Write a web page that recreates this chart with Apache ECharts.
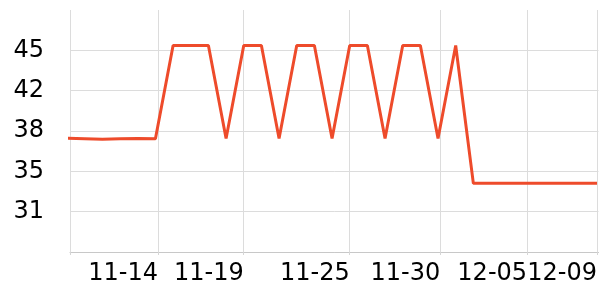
<!DOCTYPE html>
<html>
<head>
<meta charset="utf-8">
<script src="https://cdn.jsdelivr.net/npm/echarts@6/dist/echarts.min.js"></script>
<style>html,body{margin:0;padding:0;background:#fff}#c{width:600px;height:300px}</style>
</head>
<body>
<div id="c"></div>
<script>
var year = 2023;
var dates = ['11-09','11-10','11-11','11-12','11-13','11-14','11-15','11-16','11-17','11-18',
  '11-19','11-20','11-21','11-22','11-23','11-24','11-25','11-26','11-27','11-28',
  '11-29','11-30','12-01','12-02','12-03','12-04','12-05','12-06','12-07','12-08','12-09'];
var values = [37.37,37.33,37.28,37.33,37.35,37.33,45.42,45.42,45.42,37.35,
  45.42,45.42,37.35,45.42,45.42,37.35,45.42,45.42,37.35,45.42,
  45.42,37.35,45.42,33.46,33.46,33.46,33.46,33.46,33.46,33.46,33.46];
var tickTimes = ['11-14 03:30','11-19 00:00','11-25 00:00','11-30 03:00','12-05 01:00','12-09 00:00'];
var yTicks = [27.5, 31, 34.5, 38, 41.5, 45, 48.5];
var xRange = ['11-09 03:55', '12-09 02:00'];

function ts(s) {
  var p = s.split(' ');
  var md = p[0].split('-');
  var hm = (p[1] || '00:00').split(':');
  return Date.UTC(year, +md[0] - 1, +md[1], +hm[0], +hm[1]);
}
function fmt(v) {
  var d = new Date(v);
  var m = d.getUTCMonth() + 1, dd = d.getUTCDate();
  return (m < 10 ? '0' + m : m) + '-' + (dd < 10 ? '0' + dd : dd);
}
var data = dates.map(function (d, i) { return [ts(d), values[i]]; });
var labelVals = tickTimes.map(ts);
var tickVals = [ts(xRange[0])].concat(labelVals);

var chart = echarts.init(document.getElementById('c'));
chart.setOption({
  animation: false,
  grid: { left: 70, right: 0, top: 10, bottom: 48, containLabel: false },
  xAxis: {
    type: 'value',
    min: ts(xRange[0]),
    max: ts(xRange[1]),
    axisLine: { show: true, lineStyle: { color: '#c8c8c8', width: 1 } },
    axisTick: { show: true, length: 3, customValues: tickVals, lineStyle: { color: '#d6d6d6' } },
    splitLine: { show: true, lineStyle: { color: '#dcdcdc', width: 1 } },
    axisLabel: {
      customValues: labelVals,
      align: 'right',
      margin: 10,
      color: '#000',
      fontSize: 24,
      fontFamily: 'DejaVu Sans',
      formatter: function (v) { return fmt(v); }
    }
  },
  yAxis: {
    type: 'value',
    min: yTicks[0],
    max: yTicks[yTicks.length - 1],
    interval: yTicks[1] - yTicks[0],
    axisLine: { show: false },
    axisTick: { show: false },
    splitLine: { show: true, lineStyle: { color: ['#dcdcdc','#dcdcdc','#dcdcdc','#dcdcdc','#dcdcdc','#dcdcdc','rgba(0,0,0,0)'], width: 1 } },
    axisLabel: {
      showMinLabel: false,
      showMaxLabel: false,
      margin: 26,
      color: '#000',
      fontSize: 24,
      fontFamily: 'DejaVu Sans',
      formatter: function (v) { return String(Math.round(v)); }
    }
  },
  series: [{
    type: 'line',
    data: data,
    showSymbol: false,
    symbol: 'none',
    lineStyle: { color: '#ee4b2b', width: 3 },
    itemStyle: { color: '#ee4b2b' }
  }]
});
</script>
</body>
</html>
